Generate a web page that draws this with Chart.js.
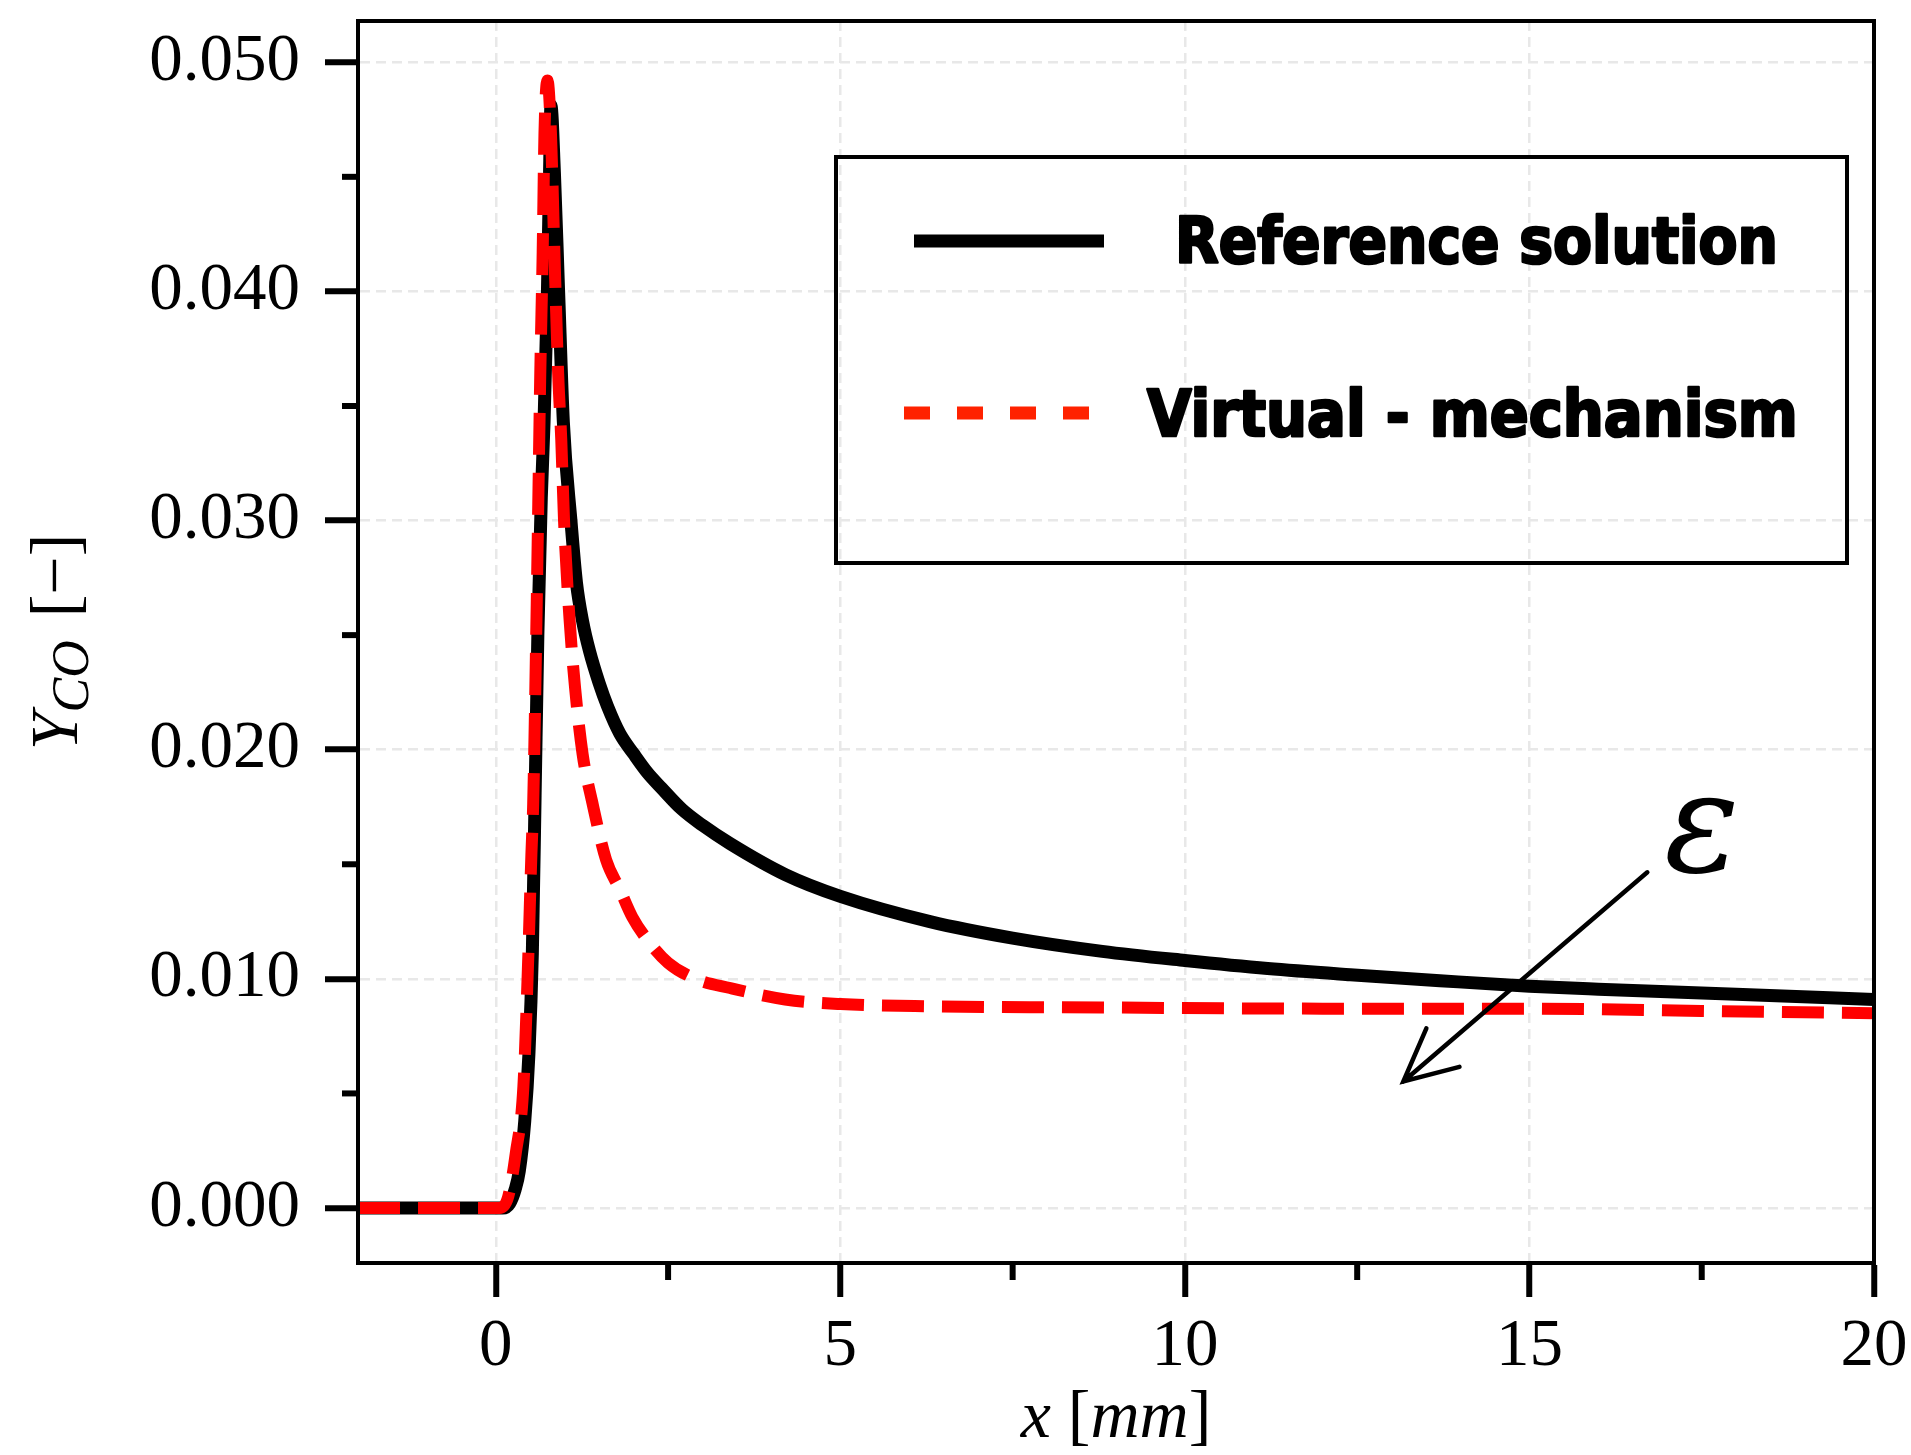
<!DOCTYPE html>
<html>
<head>
<meta charset="utf-8">
<title>Y_CO profile</title>
<script src="https://cdn.jsdelivr.net/npm/chart.js@4.4.1/dist/chart.umd.min.js"></script>
<style>
    html, body { margin: 0; padding: 0; background: #fff; overflow: hidden; }
    #wrap { position: relative; width: 1911px; height: 1455px; }
</style>
</head>
<body>
<div id="wrap"><canvas id="id_yco"></canvas></div>
<script>
(function() {
    "use strict";

    // x [mm] / Y_CO [-]
    var refX = [-2, 0, 0.10, 0.20, 0.28, 0.34, 0.42, 0.48, 0.53, 0.57, 0.61, 0.66, 0.70, 0.75, 0.78, 0.80,
                0.85, 0.91, 0.98, 1.09, 1.17, 1.26, 1.36, 1.50, 1.62, 1.80, 2.0, 2.2, 2.4, 2.7, 3.0, 3.4, 4.2, 5.0,
                6.3, 7.5, 8.8, 10, 11.2, 12.4, 13.7, 15, 16, 18, 20];
    var refY = [0, 0, 0, 0.0002, 0.0008, 0.0016, 0.0038, 0.0067, 0.0111, 0.0180, 0.0250, 0.0310, 0.0343, 0.0401, 0.0452, 0.0481,
                0.0452, 0.0401, 0.0343, 0.0300, 0.0273, 0.0256, 0.0243, 0.0229, 0.0219, 0.0207, 0.01982, 0.0190, 0.01834, 0.0174, 0.0167, 0.0159, 0.01455, 0.0136,
                0.0125, 0.01178, 0.0112, 0.0108, 0.01045, 0.01018, 0.00992, 0.00968, 0.00955, 0.00933, 0.0091];

    var virtX = [-2, 0, 0.05, 0.18, 0.29, 0.40, 0.465, 0.517, 0.542, 0.59, 0.63, 0.645, 0.68, 0.706, 0.75,
                 0.80, 0.85, 0.905, 0.95, 0.99, 1.07, 1.15, 1.26, 1.40, 1.60, 1.80, 1.98, 2.2, 2.5, 2.9, 3.4,
                 4.2, 5.0, 6.3, 8.8, 12, 15, 17.5, 20];
    var virtY = [0, 0, 0, 0.0005, 0.0024, 0.0053, 0.0104, 0.0155, 0.0176, 0.0257, 0.0335, 0.0364, 0.0417, 0.0469, 0.0492,
                 0.0469, 0.0417, 0.0364, 0.0335, 0.0300, 0.0257, 0.0227, 0.0198, 0.0177, 0.0152, 0.0139, 0.0127, 0.0117, 0.0107, 0.0100, 0.0096,
                 0.0091, 0.0089, 0.0088, 0.00875, 0.0087, 0.0087, 0.0086, 0.0085];

    var seriesLabels = ['Reference solution', 'Virtual - mechanism'];

    var xTicks = [0, 5, 10, 15, 20];
    var xMinorTicks = [2.5, 7.5, 12.5, 17.5];
    var yTicks = [0, 0.01, 0.02, 0.03, 0.04, 0.05];
    var yMinorTicks = [0.005, 0.015, 0.025, 0.035, 0.045];

    // epsilon arrow, in data units
    var arrowFrom = [16.71, 0.01465];
    var arrowTo = [13.17, 0.00552];
    var epsAt = [17.5, 0.0163];

    var SERIF = '"Liberation Serif", "Times New Roman", serif';

    var toPoints = function(xs, ys) {
        return xs.map(function(x, i) { return {x: x, y: ys[i]}; });
    };

    var measurePieces = function(ctx, pieces) {
        var total = 0;
        pieces.forEach(function(p) { ctx.font = p.font; p.w = ctx.measureText(p.t).width; total += p.w + (p.gap || 0); });
        return total;
    };

    var extras = {
        id: 'extras',
        afterDraw: function(chart) {
            var ctx = chart.ctx, a = chart.chartArea;
            var sx = chart.scales.x, sy = chart.scales.y;
            var ds = chart.data.datasets;
            ctx.save();

            // minor ticks
            ctx.strokeStyle = '#000';
            ctx.lineWidth = 6;
            xMinorTicks.forEach(function(v) {
                var px = sx.getPixelForValue(v);
                ctx.beginPath(); ctx.moveTo(px, a.bottom); ctx.lineTo(px, a.bottom + 17); ctx.stroke();
            });
            yMinorTicks.forEach(function(v) {
                var py = sy.getPixelForValue(v);
                ctx.beginPath(); ctx.moveTo(a.left - 16, py); ctx.lineTo(a.left, py); ctx.stroke();
            });

            // frame
            ctx.lineWidth = 4;
            ctx.strokeRect(a.left, a.top, a.right - a.left, a.bottom - a.top);

            // arrow + epsilon
            var x0 = sx.getPixelForValue(arrowFrom[0]), y0 = sy.getPixelForValue(arrowFrom[1]);
            var x1 = sx.getPixelForValue(arrowTo[0]), y1 = sy.getPixelForValue(arrowTo[1]);
            var ang = Math.atan2(y0 - y1, x0 - x1), hl = 58, spread = 26 * Math.PI / 180;
            ctx.lineWidth = 4.5;
            ctx.lineCap = 'round';
            ctx.beginPath();
            ctx.moveTo(x0, y0); ctx.lineTo(x1, y1);
            ctx.moveTo(x1 + hl * Math.cos(ang - spread), y1 + hl * Math.sin(ang - spread));
            ctx.lineTo(x1, y1);
            ctx.lineTo(x1 + hl * Math.cos(ang + spread), y1 + hl * Math.sin(ang + spread));
            ctx.stroke();
            ctx.fillStyle = '#000';
            ctx.font = 'italic 140px "DejaVu Serif", ' + SERIF;
            ctx.textAlign = 'center';
            ctx.textBaseline = 'middle';
            ctx.fillText('\u03B5', sx.getPixelForValue(epsAt[0]), sy.getPixelForValue(epsAt[1]));

            // legend box
            var bl = a.left + 478, bt = a.top + 136, bw = 1011, bh = 406;
            ctx.lineCap = 'butt';
            ctx.lineWidth = 4;
            ctx.strokeRect(bl, bt, bw, bh);
            ctx.lineWidth = 13;
            ctx.strokeStyle = ds[0].borderColor;
            ctx.beginPath(); ctx.moveTo(bl + 78, bt + 84); ctx.lineTo(bl + 268, bt + 84); ctx.stroke();
            ctx.strokeStyle = '#ff2200';
            ctx.setLineDash([26, 27]);
            ctx.beginPath(); ctx.moveTo(bl + 68, bt + 256); ctx.lineTo(bl + 253, bt + 256); ctx.stroke();
            ctx.setLineDash([]);
            ctx.textAlign = 'left';
            ctx.textBaseline = 'alphabetic';
            ctx.font = 'bold 64px "DejaVu Sans Condensed", "DejaVu Sans", sans-serif';
            ctx.strokeStyle = '#000';
            ctx.lineWidth = 2.5;
            ctx.lineJoin = 'round';
            ctx.fillText(ds[0].label, bl + 339, bt + 106, 603);
            ctx.strokeText(ds[0].label, bl + 339, bt + 106, 603);
            ctx.fillText(ds[1].label, bl + 311, bt + 279, 659);
            ctx.strokeText(ds[1].label, bl + 311, bt + 279, 659);

            // axis titles
            var xt = [
                {t: 'x', font: 'italic 68px ' + SERIF, dy: 0},
                {t: ' [', font: '68px ' + SERIF, dy: 0},
                {t: 'mm', font: 'italic 68px ' + SERIF, dy: 0},
                {t: ']', font: '68px ' + SERIF, dy: 0}
            ];
            var w = measurePieces(ctx, xt), cx = (a.left + a.right) / 2 - w / 2;
            xt.forEach(function(p) { ctx.font = p.font; ctx.fillText(p.t, cx, 1437 + p.dy); cx += p.w; });

            var yt = [
                {t: 'Y', font: 'italic 68px ' + SERIF, dy: 0},
                {t: 'CO', font: 'italic 52px ' + SERIF, dy: 11, gap: 6},
                {t: ' [\u2212]', font: '68px ' + SERIF, dy: 0}
            ];
            w = measurePieces(ctx, yt);
            ctx.translate(77, (a.top + a.bottom) / 2 + w / 2);
            ctx.rotate(-Math.PI / 2);
            cx = 0;
            yt.forEach(function(p) { ctx.font = p.font; ctx.fillText(p.t, cx, p.dy); cx += p.w + (p.gap || 0); });

            ctx.restore();
        }
    };

    var tickFont = {family: SERIF, size: 67, lineHeight: 1};

    var ctx = document.getElementById('id_yco').getContext('2d');
    var chart = new Chart(ctx, {
        type: 'line',
        data: {
            datasets: [{
                label: seriesLabels[0],
                data: toPoints(refX, refY),
                borderColor: '#000000',
                borderWidth: 13,
                pointRadius: 0,
                cubicInterpolationMode: 'monotone',
                order: 2
            }, {
                label: seriesLabels[1],
                data: toPoints(virtX, virtY),
                borderColor: '#ff0000',
                borderWidth: 12,
                borderDash: [42, 18],
                pointRadius: 0,
                cubicInterpolationMode: 'monotone',
                order: 1
            }]
        },
        options: {
            responsive: true,
            maintainAspectRatio: false,
            animation: false,
            devicePixelRatio: 1,
            layout: {padding: {top: 21, right: 37, left: 0, bottom: 0}},
            plugins: {legend: {display: false}, tooltip: {enabled: false}},
            scales: {
                x: {
                    type: 'linear',
                    min: -2,
                    max: 20,
                    afterBuildTicks: function(s) { s.ticks = xTicks.map(function(v) { return {value: v}; }); },
                    afterFit: function(s) { s.height = 192; s.paddingLeft = 0; s.paddingRight = 0; },
                    ticks: {color: '#000', font: tickFont, padding: 17, maxRotation: 0,
                            callback: function(v) { return String(v); }},
                    grid: {color: '#e8e8e8', lineWidth: 2.5, tickLength: 34, tickWidth: 6, tickColor: '#000'},
                    border: {display: true, color: '#000', width: 4, dash: [10, 6]}
                },
                y: {
                    type: 'linear',
                    min: -0.0024,
                    max: 0.0518,
                    afterBuildTicks: function(s) { s.ticks = yTicks.map(function(v) { return {value: v}; }); },
                    afterFit: function(s) { s.width = 358; s.paddingTop = 0; s.paddingBottom = 0; },
                    ticks: {color: '#000', font: tickFont, padding: 25,
                            callback: function(v) { return Number(v).toFixed(3); }},
                    grid: {color: '#e8e8e8', lineWidth: 2.5, tickLength: 33, tickWidth: 6, tickColor: '#000'},
                    border: {display: true, color: '#000', width: 4, dash: [10, 6]}
                }
            }
        },
        plugins: [extras]
    });
})();
</script>
</body>
</html>
